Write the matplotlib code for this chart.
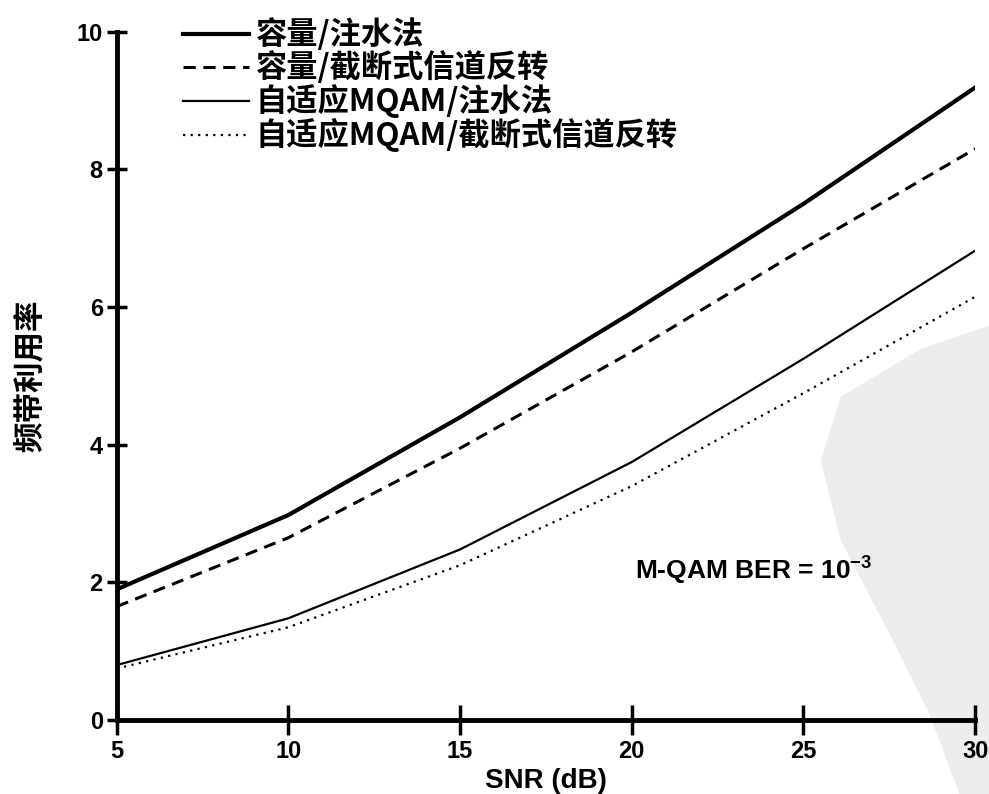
import matplotlib.pyplot as plt
from matplotlib.patches import Polygon

plt.rcParams['font.family'] = ['Liberation Sans', 'Noto Sans CJK SC', 'DejaVu Sans']
plt.rcParams['mathtext.fontset'] = 'custom'
plt.rcParams['mathtext.rm'] = 'Liberation Sans:bold'
plt.rcParams['mathtext.bf'] = 'Liberation Sans:bold'

# SNR (dB)
snr = [5, 10, 15, 20, 25, 30]

# spectral efficiency
cap_waterfill = [1.9, 2.98, 4.4, 5.92, 7.5, 9.19]
cap_truncated = [1.65, 2.65, 3.95, 5.35, 6.85, 8.3]
mqam_waterfill = [0.8, 1.48, 2.48, 3.75, 5.25, 6.82]
mqam_truncated = [0.75, 1.35, 2.25, 3.4, 4.75, 6.15]

labels = ['容量/注水法', '容量/截断式信道反转',
          '自适应MQAM/注水法', '自适应MQAM/截断式信道反转']

fig = plt.figure(figsize=(9.89, 7.94), dpi=100)
ax = fig.add_axes([0.118, 0.093, 0.868, 0.867])

# scan watermark in the lower right corner
shade = Polygon([(1.0, 0.59), (0.93, 0.56), (0.85, 0.50), (0.83, 0.42),
                 (0.85, 0.32), (0.90, 0.20), (0.94, 0.10), (0.97, 0.0),
                 (1.0, 0.0)], closed=True, transform=fig.transFigure,
                facecolor='#ededed', edgecolor='none', zorder=-10)
fig.patches.append(shade)
ax.patch.set_alpha(0)

ax.plot(snr, cap_waterfill, color='black', lw=3.0, label=labels[0])
ax.plot(snr, cap_truncated, color='black', lw=2.2, ls=(0, (4, 2.5)), label=labels[1])
ax.plot(snr, mqam_waterfill, color='black', lw=1.6, label=labels[2])
ax.plot(snr, mqam_truncated, color='black', lw=1.6, ls=(0, (1, 2.4)), label=labels[3])

ax.set_xlim(5, 30)
ax.set_ylim(0, 10)
ax.set_xticks([5, 10, 15, 20, 25, 30])
ax.set_yticks([0, 2, 4, 6, 8, 10])

for side in ['top', 'right']:
    ax.spines[side].set_visible(False)
for side in ['left', 'bottom']:
    ax.spines[side].set_linewidth(3.5)

ax.tick_params(axis='both', direction='inout', length=14, width=2.5, pad=3)
ax.tick_params(axis='x', length=22)
for lab in ax.get_xticklabels() + ax.get_yticklabels():
    lab.set_fontsize(17)
    lab.set_fontweight('bold')

ax.set_xlabel('SNR (dB)', fontsize=20, fontweight='bold', labelpad=4)
ax.set_ylabel('频带利用率', fontsize=22, fontweight='bold',
              family=['Noto Sans CJK SC'], labelpad=22)

ax.text(20.1, 2.05, 'M-QAM BER = 10$^{\\mathbf{-3}}$', fontsize=19, fontweight='bold')

leg = ax.legend(loc='upper left', bbox_to_anchor=(0.045, 1.06), frameon=False,
                handlelength=2.1, handletextpad=0.2, labelspacing=0.0,
                prop={'family': ['Noto Sans CJK SC'], 'weight': 'bold', 'size': 22.5})

fig.savefig('out.png', dpi=100)
